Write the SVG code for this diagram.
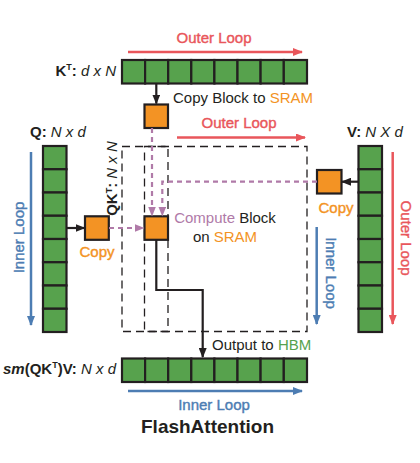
<svg xmlns="http://www.w3.org/2000/svg" width="420" height="463" viewBox="0 0 420 463">
<style>
text{font-family:"Liberation Sans",Arial,sans-serif;}
.cell{fill:#57a24d;stroke:#231f20;stroke-width:2.2;}
.blk{fill:#f39324;stroke:#231f20;stroke-width:2.2;}
.red{fill:#e9565b;}
.blue{fill:#4d7db3;}
.org{fill:#f39324;}
.pur{fill:#b07aa8;}
.grn{fill:#57a24d;}
.lbl{font-size:15px;fill:#231f20;}
.loop{font-size:15px;stroke-width:0.4px;}
.loop.red{stroke:#e9565b;}
.loop.blue{stroke:#4d7db3;}
.loop.org{stroke:#f39324;}
.dbox{fill:none;stroke:#231f20;stroke-width:1.3;stroke-dasharray:8 5;}
.pdash{fill:none;stroke:#b07aa8;stroke-width:2.2;stroke-dasharray:5 4;}
.blk-line{fill:none;stroke:#231f20;stroke-width:2.2;}
</style>
<defs>
<marker id="ah-red" markerWidth="10" markerHeight="8" refX="9" refY="4" orient="auto" markerUnits="userSpaceOnUse"><path d="M0,0 L10,4 L0,8 Z" fill="#e9565b"/></marker>
<marker id="ah-blue" markerWidth="10" markerHeight="8" refX="9" refY="4" orient="auto" markerUnits="userSpaceOnUse"><path d="M0,0 L10,4 L0,8 Z" fill="#4d7db3"/></marker>
<marker id="ah-blk" markerWidth="10" markerHeight="8" refX="9" refY="4" orient="auto" markerUnits="userSpaceOnUse"><path d="M0,0 L10,4 L0,8 Z" fill="#231f20"/></marker>
<marker id="ah-pur" markerWidth="10" markerHeight="8" refX="9" refY="4" orient="auto" markerUnits="userSpaceOnUse"><path d="M0,0 L10,4 L0,8 Z" fill="#b07aa8"/></marker>
</defs>

<!-- dashed QK^T region -->
<g id="qkt-region">
<rect class="dbox" x="122" y="146.5" width="185" height="185"/>
<rect class="dbox" x="144.5" y="146.5" width="23.5" height="185"/>
<text class="lbl" font-size="14" transform="translate(117,178.5) rotate(-90)" text-anchor="middle"><tspan font-weight="bold">QK</tspan><tspan font-weight="bold" font-size="9" dy="-5">T</tspan><tspan font-weight="bold" dy="5">:</tspan><tspan font-style="italic"> N x N</tspan></text>
</g>

<!-- K^T row -->
<g id="kt">
<rect class="cell" x="122" y="60" width="23.1" height="23.5"/>
<rect class="cell" x="145.1" y="60" width="23.1" height="23.5"/>
<rect class="cell" x="168.2" y="60" width="23.1" height="23.5"/>
<rect class="cell" x="191.3" y="60" width="23.1" height="23.5"/>
<rect class="cell" x="214.4" y="60" width="23.1" height="23.5"/>
<rect class="cell" x="237.5" y="60" width="23.1" height="23.5"/>
<rect class="cell" x="260.6" y="60" width="23.2" height="23.5"/>
<rect class="cell" x="283.8" y="60" width="23.2" height="23.5"/>
<text class="lbl" x="116" y="76" text-anchor="end"><tspan font-weight="bold">K</tspan><tspan font-weight="bold" font-size="9" dy="-6">T</tspan><tspan font-weight="bold" dy="6">:</tspan><tspan font-style="italic"> d x N</tspan></text>
</g>

<!-- Q column -->
<g id="q">
<rect class="cell" x="43" y="146" width="23.5" height="23.25"/>
<rect class="cell" x="43" y="169.25" width="23.5" height="23.25"/>
<rect class="cell" x="43" y="192.5" width="23.5" height="23.25"/>
<rect class="cell" x="43" y="215.75" width="23.5" height="23.25"/>
<rect class="cell" x="43" y="239" width="23.5" height="23.25"/>
<rect class="cell" x="43" y="262.25" width="23.5" height="23.25"/>
<rect class="cell" x="43" y="285.5" width="23.5" height="23.25"/>
<rect class="cell" x="43" y="308.75" width="23.5" height="23.25"/>
<text class="lbl" x="30" y="136.5"><tspan font-weight="bold">Q:</tspan><tspan font-style="italic"> N x d</tspan></text>
</g>

<!-- V column -->
<g id="v">
<rect class="cell" x="358.5" y="146" width="23.5" height="23.25"/>
<rect class="cell" x="358.5" y="169.25" width="23.5" height="23.25"/>
<rect class="cell" x="358.5" y="192.5" width="23.5" height="23.25"/>
<rect class="cell" x="358.5" y="215.75" width="23.5" height="23.25"/>
<rect class="cell" x="358.5" y="239" width="23.5" height="23.25"/>
<rect class="cell" x="358.5" y="262.25" width="23.5" height="23.25"/>
<rect class="cell" x="358.5" y="285.5" width="23.5" height="23.25"/>
<rect class="cell" x="358.5" y="308.75" width="23.5" height="23.25"/>
<text class="lbl" x="347" y="136.5"><tspan font-weight="bold">V:</tspan><tspan font-style="italic"> N X d</tspan></text>
</g>

<!-- Output row -->
<g id="out">
<rect class="cell" x="122" y="358.5" width="23.1" height="23.5"/>
<rect class="cell" x="145.1" y="358.5" width="23.1" height="23.5"/>
<rect class="cell" x="168.2" y="358.5" width="23.1" height="23.5"/>
<rect class="cell" x="191.3" y="358.5" width="23.1" height="23.5"/>
<rect class="cell" x="214.4" y="358.5" width="23.1" height="23.5"/>
<rect class="cell" x="237.5" y="358.5" width="23.1" height="23.5"/>
<rect class="cell" x="260.6" y="358.5" width="23.2" height="23.5"/>
<rect class="cell" x="283.8" y="358.5" width="23.2" height="23.5"/>
<text class="lbl" x="116" y="374" text-anchor="end"><tspan font-weight="bold" font-style="italic">sm</tspan><tspan font-weight="bold">(QK</tspan><tspan font-weight="bold" font-size="9" dy="-6">T</tspan><tspan font-weight="bold" dy="6">)V:</tspan><tspan font-style="italic"> N x d</tspan></text>
</g>

<!-- SRAM blocks -->
<g id="k-block"><rect class="blk" x="144.5" y="104.5" width="23.5" height="23.5"/>
<text class="lbl" x="173" y="103.3" font-size="14.5">Copy Block to <tspan class="org">SRAM</tspan></text></g>
<g id="q-block"><rect class="blk" x="85" y="216.3" width="23.8" height="23.5"/>
<text class="loop org" x="97" y="256.7" text-anchor="middle">Copy</text></g>
<g id="v-block"><rect class="blk" x="317" y="170" width="24.5" height="23.5"/>
<text class="loop org" x="336" y="212.7" text-anchor="middle">Copy</text></g>
<g id="compute-block"><rect class="blk" x="144.5" y="216.3" width="23.5" height="23.5"/>
<text class="lbl" x="225" y="223.3" font-size="14.5" text-anchor="middle"><tspan class="pur">Compute</tspan> Block</text>
<text class="lbl" x="225" y="242" font-size="14.5" text-anchor="middle">on <tspan class="org">SRAM</tspan></text></g>

<!-- Output label -->
<g id="output-label">
<text class="lbl" x="212" y="350">Output to <tspan class="grn">HBM</tspan></text>
</g>

<!-- loop labels -->
<g id="loops">
<text class="loop red" x="214" y="43" text-anchor="middle">Outer Loop</text>
<text class="loop red" x="239" y="128.3" text-anchor="middle">Outer Loop</text>
<text class="loop blue" x="214" y="410" text-anchor="middle">Inner Loop</text>
<text class="loop blue" transform="translate(23.5,237.5) rotate(-90)" text-anchor="middle">Inner Loop</text>
<text class="loop blue" transform="translate(326,273) rotate(90)" text-anchor="middle">Inner Loop</text>
<text class="loop red" transform="translate(401,238) rotate(90)" text-anchor="middle">Outer Loop</text>
<text x="207.5" y="433" font-size="19" font-weight="bold" fill="#231f20" text-anchor="middle">FlashAttention</text>
</g>

<!-- connectors -->
<g id="connectors">
<line x1="128" y1="52" x2="302" y2="52" stroke="#e9565b" stroke-width="2.5" marker-end="url(#ah-red)"/>
<line x1="177" y1="137.5" x2="305" y2="137.5" stroke="#e9565b" stroke-width="2.5" marker-end="url(#ah-red)"/>
<line x1="128" y1="391" x2="302" y2="391" stroke="#4d7db3" stroke-width="2.5" marker-end="url(#ah-blue)"/>
<line x1="31" y1="152" x2="31" y2="325" stroke="#4d7db3" stroke-width="2.5" marker-end="url(#ah-blue)"/>
<line x1="316.7" y1="227" x2="316.7" y2="324" stroke="#4d7db3" stroke-width="2.5" marker-end="url(#ah-blue)"/>
<line x1="392.7" y1="152" x2="392.7" y2="324" stroke="#e9565b" stroke-width="2.5" marker-end="url(#ah-red)"/>

<line class="blk-line" x1="156.3" y1="83.5" x2="156.3" y2="103.5" marker-end="url(#ah-blk)"/>
<line class="blk-line" x1="66.5" y1="228" x2="84.5" y2="228" marker-end="url(#ah-blk)"/>
<line class="blk-line" x1="358.5" y1="181.7" x2="342" y2="181.7" marker-end="url(#ah-blk)"/>
<path class="blk-line" d="M156.3,239.8 V290 H202.7 V357" marker-end="url(#ah-blk)"/>

<line class="pdash" x1="152" y1="128" x2="152" y2="215.5" marker-end="url(#ah-pur)"/>
<path class="pdash" d="M317,181.7 H162.3 V215.5" marker-end="url(#ah-pur)"/>
<line class="pdash" x1="109" y1="228" x2="143.5" y2="228" marker-end="url(#ah-pur)"/>
</g>
</svg>
